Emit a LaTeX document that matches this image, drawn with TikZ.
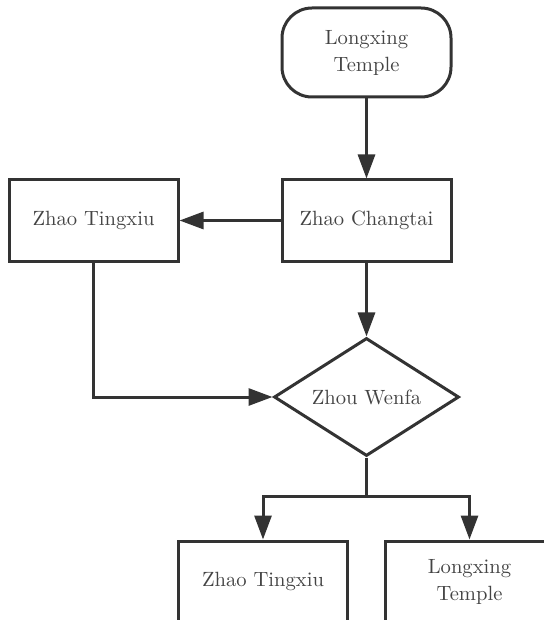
\documentclass[tikz,border=0pt]{standalone}
\usepackage{xcolor}
\usepackage{tikz}
\usetikzlibrary{positioning, arrows.meta, shapes.geometric}
\definecolor{lineGrey}{HTML}{333333}
\definecolor{textGrey}{HTML}{444444}

\begin{document}
\begin{tikzpicture}[
    x=1pt, y=1pt,
    node distance=40pt and 50.5pt,
    box/.style={rectangle, draw=lineGrey, line width=1.5pt,
                minimum width=84.5pt, minimum height=40.5pt, inner sep=0pt,
                font=\fontsize{10.3}{13.5}\selectfont, text=textGrey, align=center},
    term/.style={box, rounded corners=15pt, minimum height=44.5pt},
    decide/.style={diamond, draw=lineGrey, line width=1.5pt, aspect=1.57,
                minimum width=92.5pt, minimum height=59pt, inner sep=0pt,
                font=\fontsize{10.3}{13.5}\selectfont, text=textGrey},
    line/.style={line width=1.5pt, draw=lineGrey},
    arrow/.style={line, -{Triangle[length=12pt, width=8.5pt]}},
]

% --- frame (the bottom boxes run past it) ---
\useasboundingbox (0,0) rectangle (272,-310);
\clip (0,0) rectangle (272,-310);

% --- start ---
\node[term] (start) at (183.25,-26.25) {Longxing\\Temple};

% --- first row ---
\node[box, below=of start] (changtai) {Zhao Changtai};
\node[box, left=of changtai] (tingxiu) {Zhao Tingxiu};

% --- decision ---
\node[decide, below=37pt of changtai] (wenfa) {Zhou Wenfa};

% --- outcomes ---
\node[box, below=41pt of wenfa.south, xshift=-51.75pt] (tingxiuB) {Zhao Tingxiu};
\node[box, below=41pt of wenfa.south, xshift=51.5pt] (longxingB) {Longxing\\Temple};
\coordinate[below=19.5pt of wenfa.south] (split);

% ============== arrows ==============
\draw[arrow] (start) -- (changtai);
\draw[arrow] (changtai) -- (tingxiu);
\draw[arrow] (changtai) -- (wenfa);
\draw[arrow] (tingxiu.south) |- (wenfa.west);
\draw[line] (wenfa.south) -- (split);
\draw[arrow] (split) -| (tingxiuB.north);
\draw[arrow] (split) -| (longxingB.north);

\end{tikzpicture}
\end{document}
